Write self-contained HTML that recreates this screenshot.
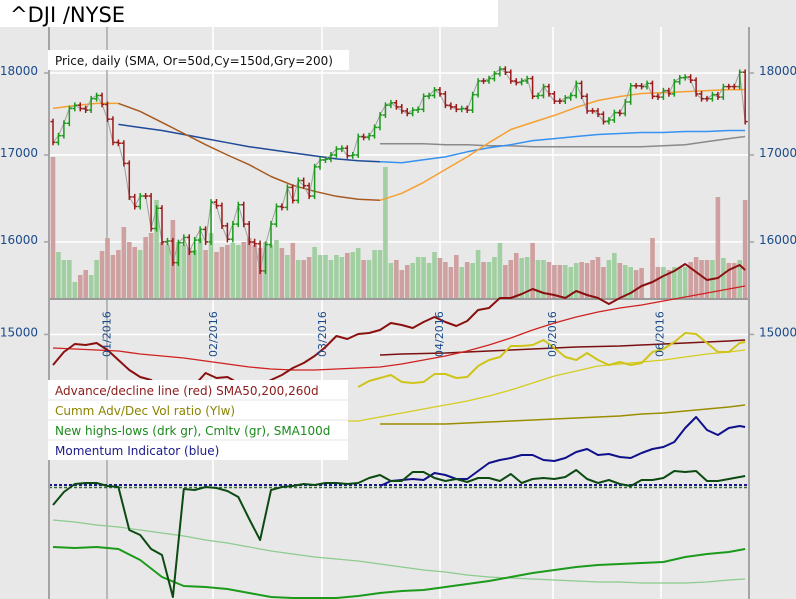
<!DOCTYPE html>
<html><head><meta charset="utf-8"><style>
html,body{margin:0;padding:0;background:#e8e8e8;}
svg{display:block;font-family:"DejaVu Sans","Liberation Sans",sans-serif;}
</style></head><body>
<svg id="chart" width="796" height="599" viewBox="0 0 796 599">
<rect x="0" y="0" width="796" height="599" fill="#e8e8e8"/>
<g id="grid"></g>
<g id="vol"></g>
<g id="sma"></g>
<g id="price"></g>
<g id="ind"></g>
<g id="axes"></g>
<rect x="0" y="0" width="498" height="27" fill="#fff"/>
<text x="10" y="22" font-size="21" fill="#000">^DJI /NYSE</text>
<g>
<rect x="48" y="50" width="301" height="20" fill="#fff"/>
<text x="55" y="65" font-size="12" fill="#111">Price, daily (SMA, Or=50d,Cy=150d,Gry=200)</text>
</g>
<g>
<rect x="48" y="380" width="300" height="80" fill="#fff"/>
<line x1="48" y1="400" x2="348" y2="400" stroke="#e4e4e4"/>
<line x1="48" y1="420" x2="348" y2="420" stroke="#e4e4e4"/>
<line x1="48" y1="440" x2="348" y2="440" stroke="#e4e4e4"/>
<text x="55" y="395" font-size="12" fill="#8b1a1a">Advance/decline line (red) SMA50,200,260d</text>
<text x="55" y="415" font-size="12" fill="#8a8400">Cumm Adv/Dec Vol ratio (Ylw)</text>
<text x="55" y="435" font-size="12" fill="#1a8a1a">New highs-lows (drk gr), Cmltv (gr), SMA100d</text>
<text x="55" y="455" font-size="12" fill="#1a1a8a">Momentum Indicator (blue)</text>
</g>
</svg>
<script>
// ---- data ----
const priceTicks = [18000, 17000, 16000, 15000];
const monthLabels = ["01/2016","02/2016","03/2016","04/2016","05/2016","06/2016"];
const monthDays = [10, 29.5, 49.5, 71, 91.75, 111.5];
const closes = [17150,17230,17380,17560,17600,17560,17540,17680,17720,17610,
17430,17150,17140,16900,16510,16400,16520,16520,16150,16380,
16000,16010,15770,15990,16050,15890,16020,16140,16000,16450,
16410,16180,16030,16200,16420,16200,16000,15980,15680,15970,
16200,16400,16390,16620,16470,16700,16640,16520,16860,16940,
16950,17000,17070,17080,16990,17000,17220,17210,17230,17330,
17480,17600,17630,17580,17530,17500,17540,17550,17710,17720,
17790,17740,17600,17580,17550,17560,17540,17730,17900,17900,
17930,17990,18050,18010,17900,17880,17900,17930,17710,17720,
17830,17740,17650,17650,17690,17720,17870,17710,17530,17530,
17490,17400,17420,17510,17500,17640,17840,17840,17830,17870,
17710,17700,17780,17740,17890,17940,17950,17910,17740,17680,
17680,17730,17700,17830,17830,17830,18010,17400];
const volumes = [142,47,39,39,17,24,29,24,39,48,
61,44,49,72,57,52,49,62,66,99,
57,54,79,57,54,51,49,61,49,66,
47,52,54,56,54,57,61,54,51,57,
54,59,51,44,56,39,39,42,52,44,
44,39,44,42,46,47,51,39,39,49,
49,132,36,39,29,34,36,42,42,36,
47,41,37,32,44,32,37,36,49,37,
37,42,56,34,39,46,41,42,56,39,
39,37,34,34,34,32,36,37,36,39,
42,32,39,46,36,34,32,29,31,0,
61,32,32,29,32,31,32,37,42,39,
39,39,102,41,36,36,39,99];
// price SMAs (every 4 days)
const sma50 = [17561,17597,17622,17622,17524,17390,17256,17122,17000,16885,16747,16644,16575,16517,16483,16471,16552,16678,16828,16977,17146,17305,17390,17475,17573,17658,17707,17744,17756,17768,17780,17793,17793];
const sma150 = [17366,17329,17293,17244,17195,17146,17098,17061,17024,16989,16954,16931,16920,16908,16943,16977,17037,17085,17122,17171,17195,17220,17244,17256,17268,17268,17280,17280,17293,17293];
const sma200 = [17134,17134,17134,17122,17122,17110,17110,17098,17098,17098,17098,17098,17098,17110,17122,17159,17195,17220];
// indicators (index units; every 2 days)
const adLine = [60.5,67,71,70.5,71.5,68,63,58,54.5,53,49,47,47,50.5,56.5,54,54.5,51.5,49,50.5,53,55.5,59,61.5,65,69.5,75,73.5,76,76.5,78,81.5,80.5,79,82,84.5,82,80,82.5,88,89,94,94,96,98.5,96.5,95.5,94,97.5,95.5,94,91,94,96.5,100,102,105,107.5,111,107,103,104,108,110.5,108];
const nhl = [-9.5,-3,1,1.5,1.5,0,-0.5,-22,-24.5,-31.5,-34.5,-55.5,-1.5,-2,-0.5,-1,-2.5,-5.5,-16.5,-27,-2,-0.5,0,1,0.5,1.5,1.5,1,1.5,4,5.5,2.5,2.5,7,7,4,2.5,3.5,2,4,4,2.5,6,1.5,3.5,4,3.5,4.5,8,3.5,1.5,3,1,0,3,3,4,7.5,7,7.5,2.5,2.5,3.5,4.5,5];
const momentum = [0,2.5,3,3.5,3,6.5,5.5,3.5,3.5,7.5,11.5,13,14,15.5,15.5,13,12.5,14,17,18.5,15.5,16,14.5,14,16.5,18.5,19.5,22,29,34.5,28,25.5,29,30,29.5];
const volRatio = [49.5,52.5,54,55.5,52,51.5,52,56,56,54,54.5,60,63,64.5,70,70,70.5,73,69,64.5,63,66.5,63,60.5,62,60.5,61.5,67,68.5,72,76.5,76,71.5,67,67,71.5,72];
// indicator averages (every 4 days)
const adSma50 = [69,68.5,68,67.5,66,65,64,62.5,61,59.5,58.5,58,58,58.5,59,59.5,61,63,65,67.5,70.5,74,78,81.5,84.5,87,89,90.5,92.5,94.5,96.5,98.5,100];
const adSma200 = [65.5,66,66.25,66.5,67,67.5,68,68.5,69,69.5,69.75,70,70.5,71,71.5,72,72.5,73];
const volRatioSma = [28,30,32.5,32.5,34.5,36.5,38.5,40.5,42.5,45,48,51.5,55,57.5,60,61,62,63,64.5,66,67,68];
const volRatioSma2 = [31,31,31,31,31.5,32,32.5,33,33.5,34,34.5,35,36,36.5,37.5,38.5,39.5,40.5];
const nhlCum = [-30.5,-31,-30.5,-31.5,-37,-45.5,-50,-50.5,-51.5,-53.5,-55.5,-56,-56,-56,-55,-53.5,-52.5,-52,-50.5,-49,-47.5,-45.5,-43.5,-42,-40.5,-39.5,-39,-38.5,-38,-35.5,-34,-33,-31.5];
const nhlSma100 = [-17,-18,-19.5,-20.5,-22,-23.5,-25,-27,-28.5,-30.5,-32.5,-34,-35.5,-36.5,-37.5,-39,-40.5,-42,-43,-44.5,-45.5,-46,-46.5,-47,-47.5,-48,-48,-48.5,-48.5,-48.5,-48,-47,-46.5];

// ---- scales ----
const NS = "http://www.w3.org/2000/svg";
const LAST = closes.length - 1;
function dayX(d){ return 53 + d * 5.45; }
function priceY(p){ return 73 + Math.log(18000 / p) * 1434; }
function volY(v){ return 299 - v; }
function indY(v){ return 486 - v * 2; }
function mk(tag, attrs, parent){
  const e = document.createElementNS(NS, tag);
  for (const k in attrs) e.setAttribute(k, attrs[k]);
  parent.appendChild(e); return e;
}
function seriesDays(n, start, step){
  const out = [];
  for (let k = 0; k < n; k++) out.push(Math.min(start + k * step, LAST));
  return out;
}
function poly(vals, start, step, yf, color, w, parent, name, from, to){
  const days = seriesDays(vals.length, start, step);
  const pts = [];
  for (let k = (from||0); k < (to===undefined?vals.length:to); k++) pts.push(dayX(days[k]).toFixed(1) + "," + yf(vals[k]).toFixed(1));
  const el = mk("polyline", {points: pts.join(" "), fill: "none", stroke: color, "stroke-width": w, "stroke-linejoin": "round"}, parent);
  
  
  return el;
}

// ---- grid ----
const grid = document.getElementById("grid");
const vGrid = [107, 213, 322, 440, 553, 661];
priceTicks.forEach(t => {
  const y = priceY(t);
  const l = mk("line", {x1: 49, x2: 749, y1: y, y2: y, stroke: "#fff", "stroke-width": 1.5}, grid);
  
  
});
vGrid.forEach((x, i) => {
  const l = mk("line", {x1: x, x2: x, y1: 27, y2: 599, stroke: i === 0 ? "#a8a8a8" : "#fff", "stroke-width": 1.5}, grid);
  
  
});

// ---- volume ----
const vol = document.getElementById("vol");
volumes.forEach((v, i) => {
  const up = i > 0 && closes[i] > closes[i-1];
  const r = mk("rect", {x: dayX(i) - 2.3, y: volY(v), width: 4.6, height: v, fill: up ? "#a2cfa2" : "#cfa0a0"}, vol);
  
  
});
const vb = mk("line", {x1: 49, x2: 749, y1: 299, y2: 299, stroke: "#9a9a9a", "stroke-width": 2}, vol);



// ---- price SMAs ----
const sma = document.getElementById("sma");
poly(sma200, 60, 4, priceY, "#8a8a8a", 1.5, sma, "sma200-line");
poly(sma150, 12, 4, priceY, "#1e4a98", 1.5, sma, "sma150-line-dark", 0, 13);
poly(sma150, 12, 4, priceY, "#3592ee", 1.5, sma, "sma150-line-light", 12);
poly(sma50, 0, 4, priceY, "#f5a030", 1.5, sma, "sma50-line-orange-start", 0, 4);
poly(sma50, 0, 4, priceY, "#a65a20", 1.5, sma, "sma50-line-brown", 3, 16);
poly(sma50, 0, 4, priceY, "#f5a030", 1.5, sma, "sma50-line-orange", 15);

// ---- price bars ----
const price = document.getElementById("price");
poly(closes, 0, 1, priceY, "#a0a0a0", 1, price, "close-line");
closes.forEach((c, i) => {
  const o = i > 0 ? closes[i-1] : c + 250;
  const up = c > o;
  const col = up ? "#1a9a1a" : "#9a1818";
  const hi = Math.max(o, c) + 35, lo = Math.min(o, c) - 35;
  const x = dayX(i);
  const g = mk("g", {stroke: col, "stroke-width": 1.5}, price);
  
  
  mk("line", {x1: x, x2: x, y1: priceY(hi), y2: priceY(lo)}, g);
  mk("line", {x1: x - 2.5, x2: x, y1: priceY(o), y2: priceY(o)}, g);
  mk("line", {x1: x, x2: x + 2.5, y1: priceY(c), y2: priceY(c)}, g);
});

// ---- indicators ----
const ind = document.getElementById("ind");
const d1 = mk("line", {x1: 49, x2: 749, y1: 485, y2: 485, stroke: "#1a1a8a", "stroke-width": 2, "stroke-dasharray": "3,2"}, ind);


const d2 = mk("line", {x1: 49, x2: 749, y1: 487.5, y2: 487.5, stroke: "#3a6a3a", "stroke-width": 1.5, "stroke-dasharray": "3,2"}, ind);


poly(nhlSma100, 0, 4, indY, "#8ccc8c", 1.2, ind, "nhl-sma100-line");
poly(nhlCum, 0, 4, indY, "#1c9a1c", 2, ind, "nhl-cumulative-line");
poly(volRatioSma2, 60, 4, indY, "#9a8e00", 1.5, ind, "vol-ratio-sma-long-line");
poly(volRatioSma, 44, 4, indY, "#d4cc20", 1.3, ind, "vol-ratio-sma-line");
poly(adSma200, 60, 4, indY, "#7a1010", 1.5, ind, "ad-sma200-line");
poly(adSma50, 0, 4, indY, "#d02020", 1.3, ind, "ad-sma50-line");
poly(volRatio, 56, 2, indY, "#cfc41a", 2, ind, "vol-ratio-line");
poly(momentum, 60, 2, indY, "#10108a", 2, ind, "momentum-line");
poly(nhl, 0, 2, indY, "#0c4a12", 2, ind, "new-highs-lows-line");
poly(adLine, 0, 2, indY, "#8a1010", 2, ind, "advance-decline-line");

// ---- axes ----
const axes = document.getElementById("axes");
[49, 749].forEach((x, i) => {
  const l = mk("line", {x1: x, x2: x, y1: 27, y2: 599, stroke: "#a4a4a4", "stroke-width": 2}, axes);
  
  
});
priceTicks.forEach(t => {
  const y = priceY(t);
  mk("line", {x1: 44, x2: 49, y1: y, y2: y, stroke: "#a4a4a4", "stroke-width": 1.5}, axes);
  mk("line", {x1: 749, x2: 754, y1: y, y2: y, stroke: "#a4a4a4", "stroke-width": 1.5}, axes);
  const a = mk("text", {x: 38, y: y + 2, "font-size": 12, fill: "#1a4a8a", "text-anchor": "end"}, axes);
  a.textContent = t;
  
  
  const b = mk("text", {x: 759, y: y + 2, "font-size": 12, fill: "#1a4a8a"}, axes);
  b.textContent = t;
  
  
});
monthLabels.forEach((m, i) => {
  const x = dayX(monthDays[i]);
  const t = mk("text", {transform: "translate(" + x.toFixed(1) + ",357) rotate(-90)", "font-size": 11, fill: "#1a4a8a", "dominant-baseline": "middle"}, axes);
  t.textContent = m;
  
  
});
</script>
</body></html>
